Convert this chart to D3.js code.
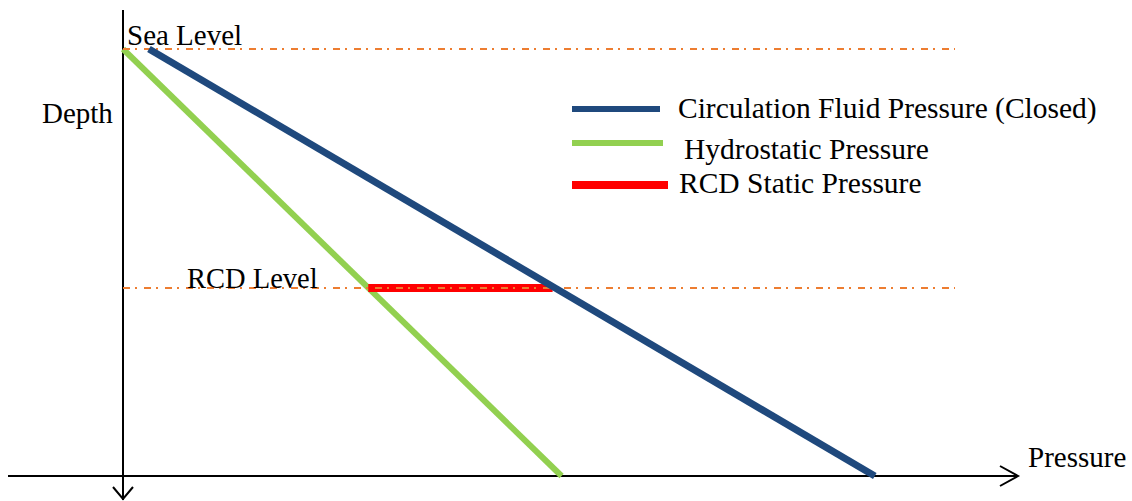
<!DOCTYPE html>
<html>
<head>
<meta charset="utf-8">
<script src="https://cdn.jsdelivr.net/npm/d3@7"></script>
<style>
  html, body { margin: 0; padding: 0; background: #fff; }
  svg { display: block; }
  text { font-family: "Liberation Serif", "Times New Roman", serif; fill: #000; }
</style>
</head>
<body>
<svg id="chart" width="1132" height="501"></svg>
<script>
// Pressure profile with depth (schematic units: depth 0 = sea level, 100 = bottom)
const seriesNames = ["Circulation Fluid Pressure (Closed)", "Hydrostatic Pressure", "RCD Static Pressure"];
const circulationPressure = [{ p: 2.9, d: 0 }, { p: 84, d: 100 }];
const hydrostaticPressure = [{ p: 0, d: 0 }, { p: 49, d: 100 }];
const rcdStaticPressure = [{ p: 27.4, d: 56 }, { p: 48, d: 56 }];
const referenceLevels = [{ name: "Sea Level", d: 0 }, { name: "RCD Level", d: 56 }];
const axisLabels = { x: "Pressure", y: "Depth" };

const svg = d3.select("#chart");
const x = d3.scaleLinear().domain([0, 100]).range([123, 1018]);
const y = d3.scaleLinear().domain([0, 100]).range([49, 476]);

const colors = { circ: "#1f497d", hydro: "#92d050", rcd: "#ff0000", level: "#ed7d31" };
const line = d3.line().x(v => x(v.p)).y(v => y(v.d));

// Axes: horizontal pressure axis with a right arrow, vertical depth axis pointing down
const axisY = y(100);
const ax = svg.append("g").attr("stroke", "#000").attr("stroke-width", 2).attr("fill", "none");
ax.append("line").attr("x1", 8).attr("x2", x(100)).attr("y1", axisY).attr("y2", axisY);
ax.append("path").attr("d", `M${x(100) - 18},${axisY - 10} L${x(100)},${axisY} L${x(100) - 18},${axisY + 10}`);
ax.append("line").attr("x1", x(0)).attr("x2", x(0)).attr("y1", 10).attr("y2", 500);
ax.append("path").attr("d", `M${x(0) - 10},487 L${x(0)},499 L${x(0) + 10},487`);

// Series lines
svg.append("path").datum(hydrostaticPressure).attr("d", line)
  .attr("stroke", colors.hydro).attr("stroke-width", 6).attr("fill", "none");
svg.append("path").datum(rcdStaticPressure).attr("d", line)
  .attr("stroke", colors.rcd).attr("stroke-width", 8).attr("fill", "none");

// Reference levels (dash-dot)
svg.selectAll("line.level").data(referenceLevels).enter().append("line")
  .attr("class", "level")
  .attr("x1", x(0)).attr("x2", 955)
  .attr("y1", v => y(v.d)).attr("y2", v => y(v.d))
  .attr("stroke", colors.level).attr("stroke-width", 2)
  .attr("stroke-dasharray", "7,5,2,7");

svg.append("path").datum(circulationPressure).attr("d", line)
  .attr("stroke", colors.circ).attr("stroke-width", 7).attr("fill", "none");

// Level labels
svg.append("text").attr("x", 127).attr("y", 45).attr("font-size", 29).text(referenceLevels[0].name);
svg.append("text").attr("x", 187).attr("y", 288).attr("font-size", 28.5).text(referenceLevels[1].name);

// Axis labels
svg.append("text").attr("x", 42).attr("y", 123).attr("font-size", 29).text(axisLabels.y);
svg.append("text").attr("x", 1028).attr("y", 467).attr("font-size", 29).text(axisLabels.x);

// Legend
const legend = [
  { name: seriesNames[0], color: colors.circ, w: 6, x1: 572, x2: 660, ly: 109, tx: 678, ty: 118 },
  { name: seriesNames[1], color: colors.hydro, w: 6, x1: 572, x2: 663, ly: 143, tx: 684, ty: 159 },
  { name: seriesNames[2], color: colors.rcd, w: 8, x1: 572, x2: 668, ly: 185, tx: 679, ty: 193 }
];
const lg = svg.append("g");
lg.selectAll("line").data(legend).enter().append("line")
  .attr("x1", v => v.x1).attr("x2", v => v.x2)
  .attr("y1", v => v.ly).attr("y2", v => v.ly)
  .attr("stroke", v => v.color).attr("stroke-width", v => v.w);
lg.selectAll("text").data(legend).enter().append("text")
  .attr("x", v => v.tx).attr("y", v => v.ty).attr("font-size", 29.5)
  .text(v => v.name);
</script>
</body>
</html>
